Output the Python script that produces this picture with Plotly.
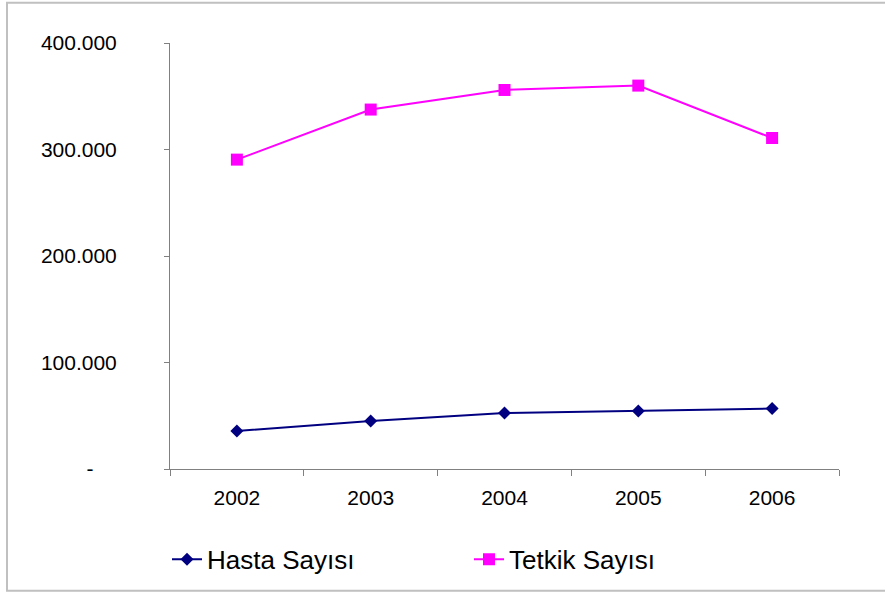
import plotly.graph_objects as go

years = ["2002", "2003", "2004", "2005", "2006"]
hasta = [35700, 45100, 52600, 54500, 56700]
tetkik = [290500, 337500, 355900, 360000, 310800]
ytick_vals = [0, 100000, 200000, 300000, 400000]
ytick_text = ["-\u00a0\u00a0\u00a0\u00a0", "100.000", "200.000", "300.000", "400.000"]

W, H = 885, 595
L, R, T, B = 170, 885 - 839, 42.7, 595 - 468.7
pw, ph = W - L - R, H - T - B

fig = go.Figure()
fig.add_trace(go.Scatter(
    x=years, y=hasta, name="Hasta Sayısı", mode="lines+markers",
    line=dict(color="#000080", width=2),
    marker=dict(symbol="diamond", size=10, color="#000080"),
))
fig.add_trace(go.Scatter(
    x=years, y=tetkik, name="Tetkik Sayısı", mode="lines+markers",
    line=dict(color="#ff00ff", width=2),
    marker=dict(symbol="square", size=12, color="#ff00ff"),
))

def px_x(x):
    return (x - L) / pw

def px_y(y):
    return (H - B - y) / ph

fig.add_shape(type="rect", xref="paper", yref="paper",
              x0=px_x(7), x1=px_x(910), y0=px_y(590.5), y1=px_y(2.5),
              line=dict(color="#c0c0c0", width=2), fillcolor="rgba(0,0,0,0)",
              layer="below")

fig.update_layout(
    width=W, height=H,
    margin=dict(l=L, r=R, t=T, b=B),
    paper_bgcolor="white", plot_bgcolor="white",
    font=dict(family="Liberation Sans, Arial, sans-serif", color="black"),
    showlegend=True,
    legend=dict(orientation="h", x=px_x(167), y=px_y(559), xanchor="left", yanchor="middle",
                font=dict(size=26), entrywidth=257, entrywidthmode="pixels",
                bgcolor="rgba(0,0,0,0)"),
    xaxis=dict(type="category", tickson="boundaries", showgrid=False,
               showline=True, linecolor="#808080", linewidth=1,
               ticks="outside", ticklen=6, tickcolor="#808080",
               tickfont=dict(size=21), ticklabelstandoff=10,
               range=[-0.5, 4.5], fixedrange=True),
    yaxis=dict(range=[0, 400000], tickvals=ytick_vals, ticktext=ytick_text,
               showgrid=False, zeroline=False,
               showline=True, linecolor="#808080", linewidth=1,
               ticks="outside", ticklen=5, tickcolor="#808080",
               tickfont=dict(size=21), ticklabelstandoff=43),
)

fig.write_html("out.html", config={"displayModeBar": False},
               post_script="document.body.style.margin='0';document.body.style.overflow='hidden';")
